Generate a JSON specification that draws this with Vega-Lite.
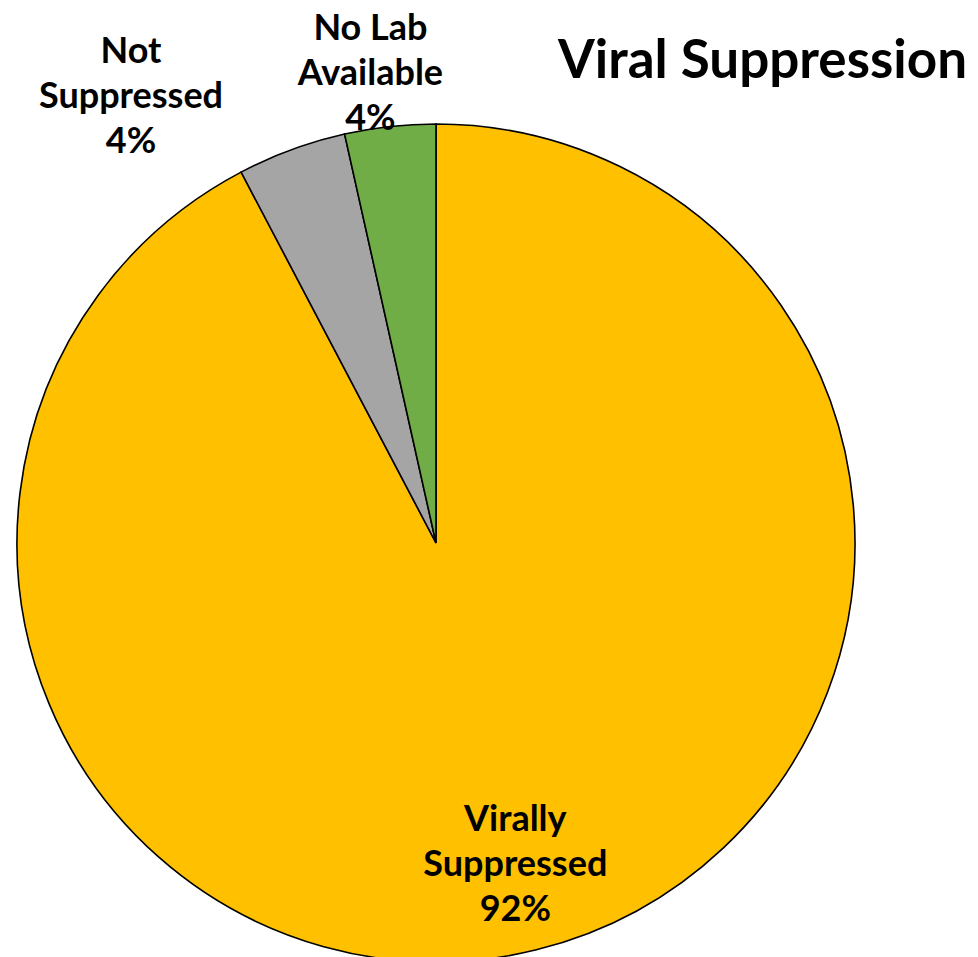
{
  "$schema": "https://vega.github.io/schema/vega-lite/v6.json",
  "width": 872,
  "height": 1086,
  "autosize": {"type": "none"},
  "padding": {"left": 0, "top": 0, "right": 106, "bottom": 0},
  "background": "white",
  "title": {
    "text": "Viral Suppression",
    "anchor": "start",
    "frame": "group",
    "orient": "top",
    "dx": 558,
    "offset": -131,
    "baseline": "alphabetic",
    "font": "Lato",
    "fontSize": 53,
    "fontWeight": "bold",
    "color": "black"
  },
  "config": {"view": {"stroke": null}},
  "data": {
    "values": [
      {"status": "Virally Suppressed", "pct": 92.3, "rank": 1, "label": "Virally\nSuppressed\n92%"},
      {"status": "Not Suppressed", "pct": 4.2, "rank": 2, "label": "Not\nSuppressed\n4%"},
      {"status": "No Lab Available", "pct": 3.5, "rank": 3, "label": "No Lab\nAvailable\n4%"}
    ]
  },
  "encoding": {
    "theta": {"field": "pct", "type": "quantitative", "stack": true},
    "order": {"field": "rank", "type": "quantitative"}
  },
  "layer": [
    {
      "mark": {"type": "arc", "outerRadius": 419, "stroke": "black", "strokeWidth": 1.6},
      "encoding": {
        "color": {
          "field": "status",
          "type": "nominal",
          "scale": {
            "domain": ["Virally Suppressed", "Not Suppressed", "No Lab Available"],
            "range": ["#FFC000", "#A5A5A5", "#70AD47"]
          },
          "legend": null
        }
      }
    },
    {
      "mark": {"type": "text", "radius": 331, "dy": -44, "font": "Lato", "fontSize": 36, "fontWeight": "bold", "lineHeight": 45, "lineBreak": "\n", "align": "center", "baseline": "middle", "color": "black"},
      "encoding": {
        "text": {"condition": {"test": "datum.status === 'Virally Suppressed'", "field": "label"}, "value": ""}
      }
    },
    {
      "mark": {"type": "text", "radius": 470, "dx": -143, "dy": -50, "font": "Lato", "fontSize": 36, "fontWeight": "bold", "lineHeight": 45, "lineBreak": "\n", "align": "center", "baseline": "middle", "color": "black"},
      "encoding": {
        "text": {"condition": {"test": "datum.status === 'Not Suppressed'", "field": "label"}, "value": ""}
      }
    },
    {
      "mark": {"type": "text", "radius": 470, "dx": -14, "dy": -47, "font": "Lato", "fontSize": 36, "fontWeight": "bold", "lineHeight": 45, "lineBreak": "\n", "align": "center", "baseline": "middle", "color": "black"},
      "encoding": {
        "text": {"condition": {"test": "datum.status === 'No Lab Available'", "field": "label"}, "value": ""}
      }
    }
  ]
}
